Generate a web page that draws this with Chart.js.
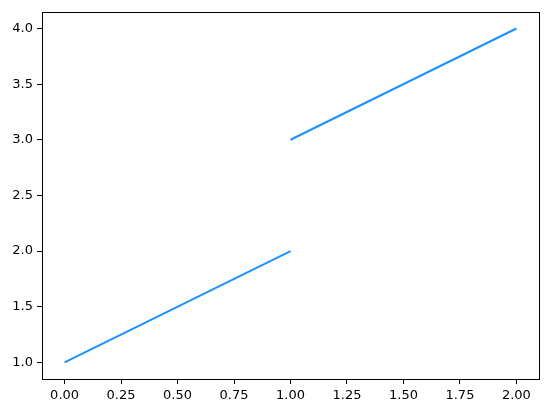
<!DOCTYPE html>
<html>
<head>
<meta charset="utf-8">
<script src="https://cdn.jsdelivr.net/npm/chart.js@4"></script>
<style>
  html, body { margin: 0; padding: 0; background: #fff; }
  #wrap { width: 547px; height: 413px; }
</style>
</head>
<body>
<div id="wrap"><canvas id="chart" width="547" height="413"></canvas></div>
<script>
// Data: two separate line segments
const segmentA_x = [0, 1];
const segmentA_y = [1, 2];
const segmentB_x = [1, 2];
const segmentB_y = [3, 4];
const xTicks = [0, 0.25, 0.5, 0.75, 1.0, 1.25, 1.5, 1.75, 2.0];
const yTicks = [1.0, 1.5, 2.0, 2.5, 3.0, 3.5, 4.0];

const lineColor = "#1E90FF";
const font = { family: "'DejaVu Sans', sans-serif", size: 13 };

function toPoints(xs, ys) {
  return xs.map((x, i) => ({ x: x, y: ys[i] }));
}

// draw the full frame around the plot area
const frame = {
  id: "frame",
  afterDraw(chart) {
    const a = chart.chartArea;
    const c = chart.ctx;
    c.save();
    c.strokeStyle = "#000";
    c.lineWidth = 1;
    c.strokeRect(Math.round(a.left) + 0.5, Math.round(a.top) + 0.5,
      Math.round(a.right - a.left), Math.round(a.bottom - a.top));
    c.restore();
  },
};

const ctx = document.getElementById("chart").getContext("2d");
new Chart(ctx, {
  type: "line",
  data: {
    datasets: [
      { data: toPoints(segmentA_x, segmentA_y), borderColor: lineColor, borderWidth: 2, pointRadius: 0, fill: false },
      { data: toPoints(segmentB_x, segmentB_y), borderColor: lineColor, borderWidth: 2, pointRadius: 0, fill: false },
    ],
  },
  options: {
    responsive: false,
    animation: false,
    layout: { padding: { left: 0, top: 10, right: 8, bottom: 0 } },
    plugins: { legend: { display: false }, tooltip: { enabled: false } },
    scales: {
      x: {
        type: "linear",
        min: -0.1,
        max: 2.1,
        afterBuildTicks: (s) => { s.ticks = xTicks.map((v) => ({ value: v })); },
        afterFit: (s) => { s.height = 34; },
        ticks: {
          color: "#000",
          font: font,
          padding: 4,
          maxRotation: 0,
          autoSkip: false,
          callback: (v) => Number(v).toFixed(2),
        },
        grid: { drawOnChartArea: false, drawTicks: true, tickLength: 5, color: "#000" },
        border: { display: false },
      },
      y: {
        min: 0.85,
        max: 4.15,
        afterBuildTicks: (s) => { s.ticks = yTicks.map((v) => ({ value: v })); },
        afterFit: (s) => { s.width = 42; },
        ticks: {
          color: "#000",
          font: font,
          padding: 4,
          autoSkip: false,
          callback: (v) => Number(v).toFixed(1),
        },
        grid: { drawOnChartArea: false, drawTicks: true, tickLength: 5, color: "#000" },
        border: { display: false },
      },
    },
  },
  plugins: [frame],
});
</script>
</body>
</html>
